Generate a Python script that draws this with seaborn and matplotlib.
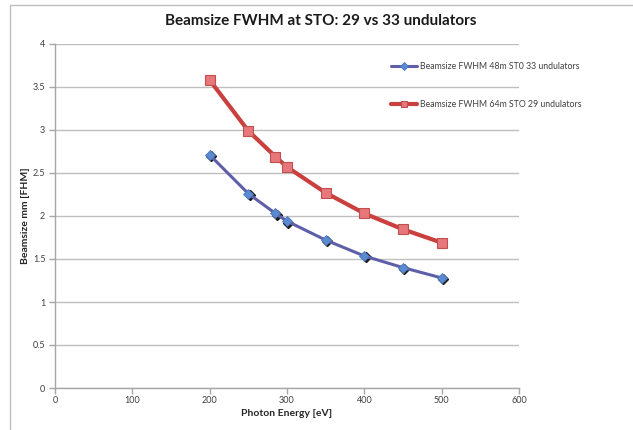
import matplotlib
matplotlib.use("Agg")
import matplotlib.pyplot as plt
import matplotlib.transforms as mtransforms
from matplotlib.lines import Line2D
import seaborn as sns
import pandas as pd

# Photon energy points (eV) and FWHM beam sizes (mm)
energy = [200, 250, 285, 300, 350, 400, 450, 500]
size_33_und = [2.71, 2.26, 2.03, 1.94, 1.72, 1.535, 1.40, 1.28]
size_29_und = [3.58, 2.99, 2.69, 2.57, 2.27, 2.03, 1.845, 1.69]

label_33 = "Beamsize FWHM 48m ST0 33 undulators"
label_29 = "Beamsize FWHM 64m STO 29 undulators"

x_ticks = [0, 100, 200, 300, 400, 500, 600]
y_ticks = [0, 0.5, 1, 1.5, 2, 2.5, 3, 3.5, 4]
y_tick_labels = ["0", "0.5", "1", "1.5", "2", "2.5", "3", "3.5", "4"]

sns.set_style("white")
plt.rcParams["font.family"] = ["Lato", "DejaVu Sans"]

df33 = pd.DataFrame({"energy": energy, "size": size_33_und})
df29 = pd.DataFrame({"energy": energy, "size": size_29_und})

fig = plt.figure(figsize=(6.33, 4.30), dpi=100)
ax = fig.add_axes([55 / 633, 42 / 430, 464 / 633, 344 / 430])

grid_c = "#BFBFBF"
axis_c = "#A6A6A6"

# blue series: thin line, diamond markers with a dark drop shadow
shadow = mtransforms.offset_copy(ax.transData, fig=fig, x=1.0, y=-1.0, units="points")
ax.plot(energy, size_33_und, linestyle="none", marker="D", markersize=5.5,
        color="#1a1a1a", transform=shadow, zorder=3)
sns.lineplot(data=df33, x="energy", y="size", ax=ax, color="#5E5FA8",
             linewidth=2.2, marker="D", markersize=5.5,
             markerfacecolor="#5A8AD0", markeredgecolor="#4A78C0",
             markeredgewidth=0.6, label=label_33, zorder=4)

# red series: thick line, square markers
sns.lineplot(data=df29, x="energy", y="size", ax=ax, color="#C9403E",
             linewidth=3.0, marker="s", markersize=7.5,
             markerfacecolor="#E7777A", markeredgecolor="#C0504D",
             markeredgewidth=0.8, label=label_29, zorder=5)

ax.set_xlim(0, 600)
ax.set_ylim(0, 4)
ax.set_xticks(x_ticks)
ax.set_yticks(y_ticks)
ax.set_yticklabels(y_tick_labels)
ax.yaxis.grid(True, color=grid_c, linewidth=1.0)
ax.xaxis.grid(False)
ax.set_axisbelow(True)

for side in ("top", "right"):
    ax.spines[side].set_visible(False)
for side in ("left", "bottom"):
    ax.spines[side].set_color(axis_c)
    ax.spines[side].set_linewidth(1.0)

ax.tick_params(axis="both", which="major", direction="out", length=4,
               width=1.0, color=axis_c, labelsize=6.5, labelcolor="#404040",
               left=True, bottom=True)
ax.tick_params(axis="y", pad=3)
ax.tick_params(axis="x", pad=2)

ax.set_xlabel("Photon Energy [eV]", fontsize=7.5, fontweight="bold",
              color="#262626", labelpad=3)
ax.set_ylabel("Beamsize mm [FHM]", fontsize=7.5, fontweight="bold",
              color="#262626", labelpad=2)

fig.suptitle("Beamsize FWHM at STO: 29 vs 33 undulators", x=0.507, y=0.968,
             fontsize=11, fontweight="bold", color="#1a1a1a")

handles, labels = ax.get_legend_handles_labels()
leg = ax.legend(handles, labels, loc="upper left",
                bbox_to_anchor=(391 / 633, 1 - 62 / 430),
                bbox_transform=fig.transFigure, frameon=False,
                fontsize=6.3, handlelength=3.0, handletextpad=0.3,
                labelspacing=3.3, borderaxespad=0, borderpad=0)
for t in leg.get_texts():
    t.set_color("#404040")
for h in leg.legend_handles:
    h.set_markersize(4.5)

# chart-area border
fig.add_artist(Line2D([10 / 633, 1.0], [1 - 5 / 430, 1 - 5 / 430],
                      transform=fig.transFigure, color="#BFBFBF", linewidth=1.0))
fig.add_artist(Line2D([10 / 633, 10 / 633], [0, 1 - 5 / 430],
                      transform=fig.transFigure, color="#BFBFBF", linewidth=1.0))

fig.savefig("out.png", dpi=100)
